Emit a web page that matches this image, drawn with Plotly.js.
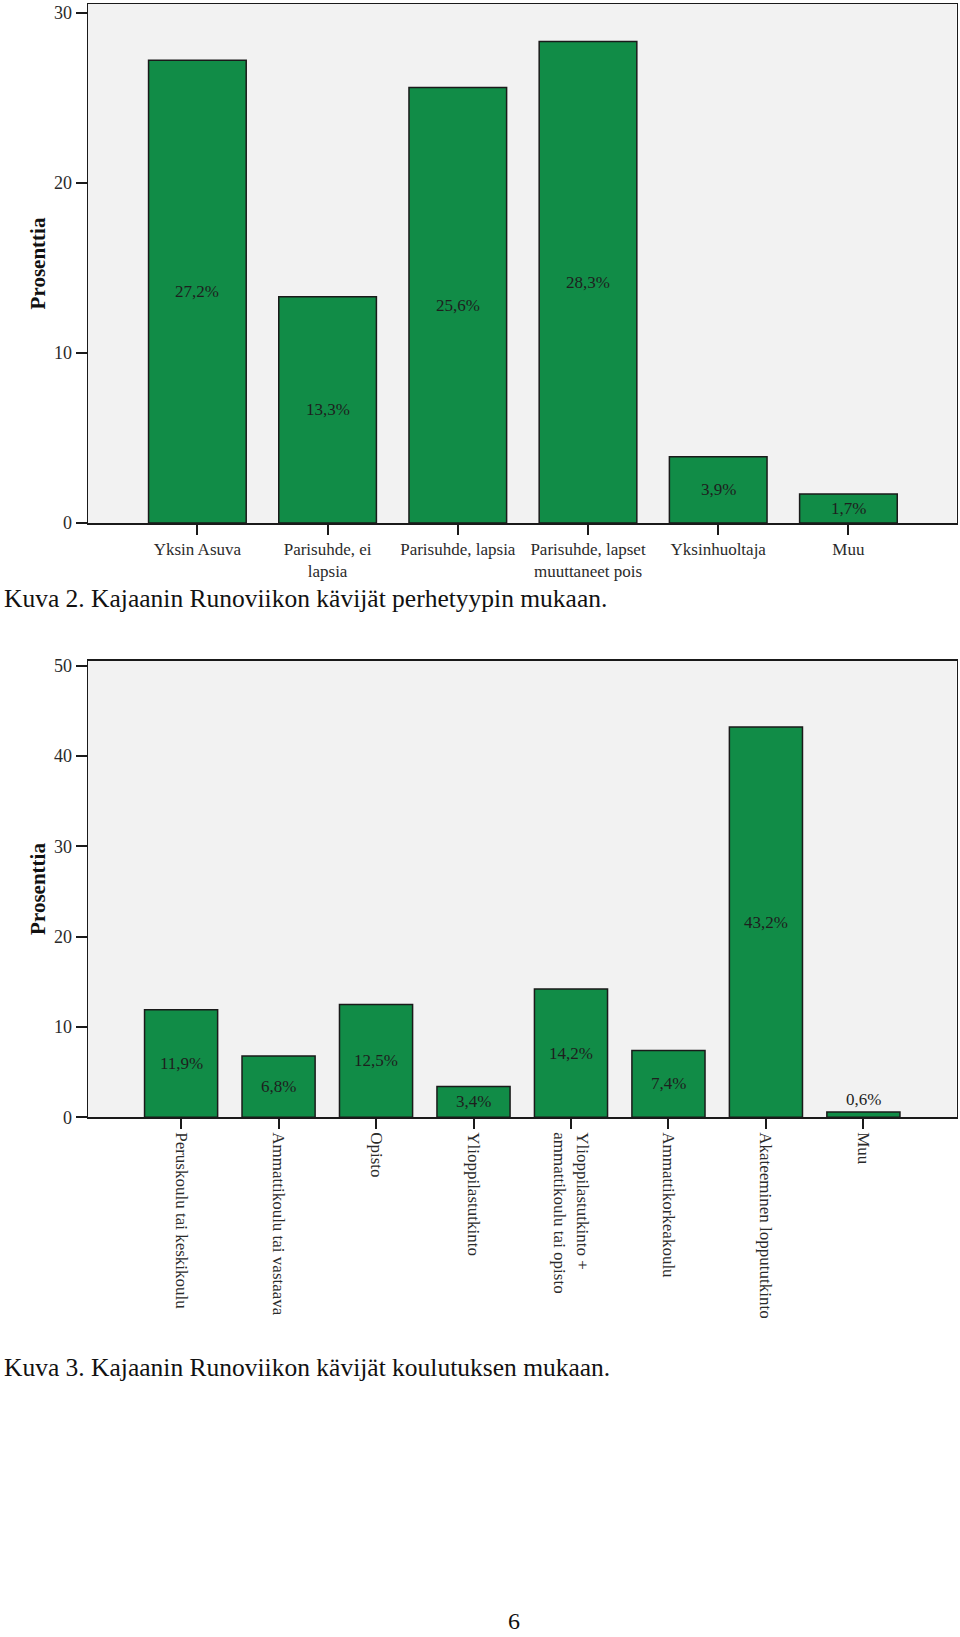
<!DOCTYPE html>
<html>
<head>
<meta charset="utf-8">
<script src="https://cdn.plot.ly/plotly-3.0.1.min.js"></script>
<style>
  html, body { margin: 0; padding: 0; background: #ffffff; }
  #chart { width: 960px; height: 1637px; }
</style>
</head>
<body>
<div id="chart"></div>
<script>
// Chart 1: family type
const famCategories = ['Yksin Asuva', 'Parisuhde, ei<br>lapsia', 'Parisuhde, lapsia', 'Parisuhde, lapset<br>muuttaneet pois', 'Yksinhuoltaja', 'Muu'];
const famValues = [27.2, 13.3, 25.6, 28.3, 3.9, 1.7];
const famLabels = ['27,2%', '13,3%', '25,6%', '28,3%', '3,9%', '1,7%'];
const famTicks = [0, 10, 20, 30];

// Chart 2: education
const eduCategories = ['Peruskoulu tai keskikoulu', 'Ammattikoulu tai vastaava', 'Opisto', 'Ylioppilastutkinto', 'Ylioppilastutkinto +<br>ammattikoulu tai opisto', 'Ammattikorkeakoulu', 'Akateeminen loppututkinto', 'Muu'];
const eduValues = [11.9, 6.8, 12.5, 3.4, 14.2, 7.4, 43.2, 0.6];
const eduLabels = ['11,9%', '6,8%', '12,5%', '3,4%', '14,2%', '7,4%', '43,2%', '0,6%'];
const eduTicks = [0, 10, 20, 30, 40, 50];

const yTitle = 'Prosenttia';
const caption1 = 'Kuva 2. Kajaanin Runoviikon kävijät perhetyypin mukaan.';
const caption2 = 'Kuva 3. Kajaanin Runoviikon kävijät koulutuksen mukaan.';
const pageNumber = '6';

const FONT = '"Liberation Serif", "DejaVu Serif", serif';
const GREEN = '#118c47';
const INK = '#1e1e1e';
const H = 1637;
const py = px => 1 - px / H;

const barTrace = (x, y, xa, ya) => ({
  type: 'bar', x: x, y: y, xaxis: xa, yaxis: ya,
  width: 0.75,
  marker: { color: GREEN, line: { color: '#1a1a1a', width: 1.5 } },
  hoverinfo: 'skip', showlegend: false
});

const traces = [
  barTrace(famCategories, famValues, 'x', 'y'),
  barTrace(eduCategories, eduValues, 'x2', 'y2')
];

function barLabels(cats, vals, labels, xa, ya) {
  return cats.map((c, i) => {
    const small = vals[i] < 1.5;
    return {
      xref: xa, yref: ya, x: c,
      y: small ? vals[i] : vals[i] / 2,
      yanchor: small ? 'bottom' : 'middle',
      yshift: small ? 1 : 0,
      text: labels[i], showarrow: false,
      font: { family: FONT, size: 17, color: INK }
    };
  });
}

const axisCommon = {
  showline: true, mirror: true, linecolor: '#1a1a1a', linewidth: 1.5,
  showgrid: false, zeroline: false,
  ticks: 'outside', ticklen: 10, tickwidth: 2, tickcolor: '#1a1a1a',
  tickfont: { family: FONT, size: 17, color: '#2a2a2a' },
  fixedrange: true
};

const yTitleObj = { text: '<b>' + yTitle + '</b>', font: { family: FONT, size: 21, color: '#111' }, standoff: 2 };

const layout = {
  width: 960, height: H,
  margin: { l: 0, r: 0, t: 0, b: 0 },
  paper_bgcolor: '#ffffff',
  plot_bgcolor: '#f2f2f2',
  showlegend: false,
  xaxis: Object.assign({}, axisCommon, {
    domain: [88 / 960, 956.5 / 960], anchor: 'y',
    type: 'category', range: [-0.84, 5.83],
    categoryorder: 'array', categoryarray: famCategories
  }),
  yaxis: Object.assign({}, axisCommon, {
    domain: [py(523), py(4)], anchor: 'x',
    range: [0, 30.5], tickvals: famTicks, ticklen: 11,
    tickfont: { family: FONT, size: 18, color: '#2a2a2a' },
    title: yTitleObj
  }),
  xaxis2: Object.assign({}, axisCommon, {
    domain: [88 / 960, 956.5 / 960], anchor: 'y2',
    type: 'category', range: [-0.955, 7.955], tickangle: 90,
    categoryorder: 'array', categoryarray: eduCategories
  }),
  yaxis2: Object.assign({}, axisCommon, {
    domain: [py(1117.3), py(660.7)], anchor: 'x2',
    range: [0, 50.55], tickvals: eduTicks, ticklen: 11,
    tickfont: { family: FONT, size: 18, color: '#2a2a2a' },
    title: yTitleObj
  }),
  annotations: [].concat(
    barLabels(famCategories, famValues, famLabels, 'x', 'y'),
    barLabels(eduCategories, eduValues, eduLabels, 'x2', 'y2'),
    [
      { xref: 'paper', yref: 'paper', x: 0.002, y: py(598), xanchor: 'left', yanchor: 'middle',
        text: caption1, showarrow: false, font: { family: FONT, size: 25.5, color: '#111' } },
      { xref: 'paper', yref: 'paper', x: 0.002, y: py(1367), xanchor: 'left', yanchor: 'middle',
        text: caption2, showarrow: false, font: { family: FONT, size: 25.5, color: '#111' } },
      { xref: 'paper', yref: 'paper', x: 514 / 960, y: py(1621), xanchor: 'center', yanchor: 'middle',
        text: pageNumber, showarrow: false, font: { family: FONT, size: 24, color: '#111' } }
    ]
  )
};

Plotly.newPlot('chart', traces, layout, { staticPlot: true, displayModeBar: false });
</script>
</body>
</html>
